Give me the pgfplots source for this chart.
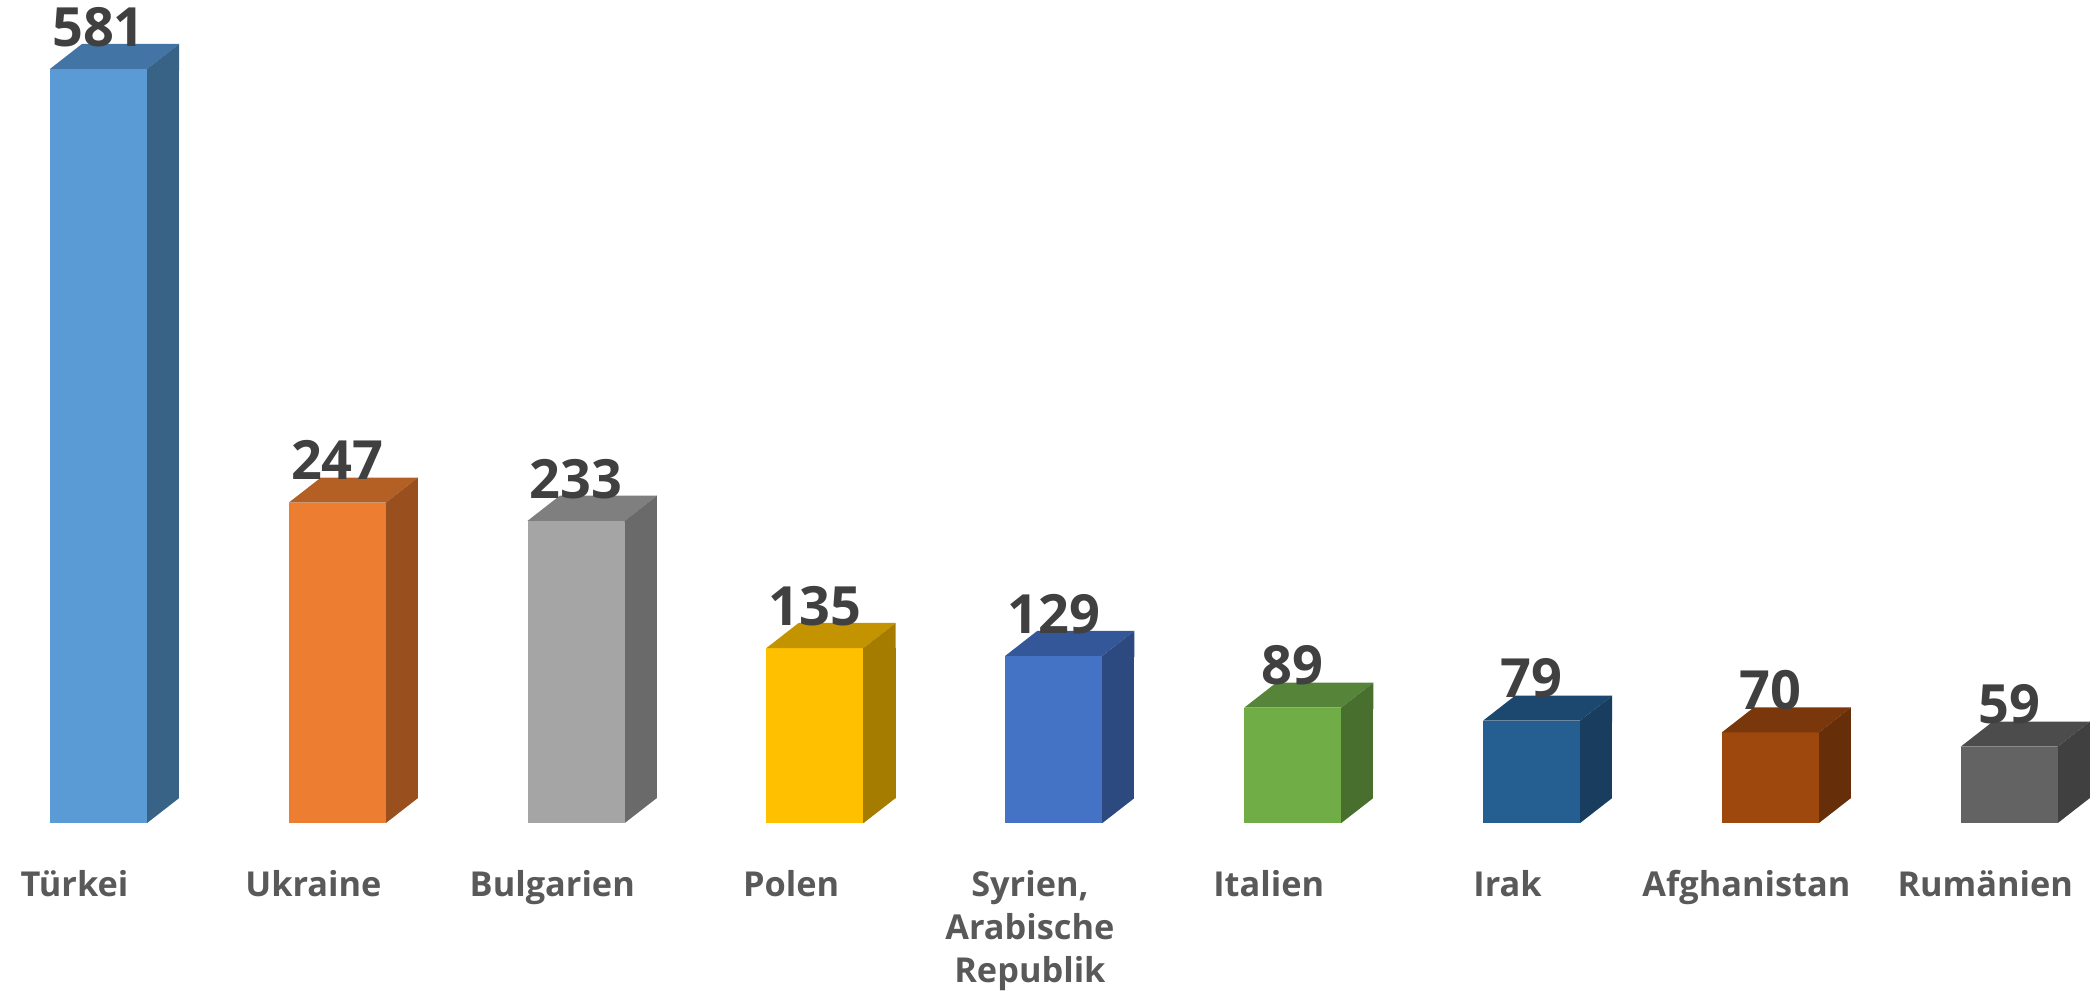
\documentclass[border=0pt]{standalone}
\usepackage{pgfplots}
\pgfplotsset{compat=1.18}
\usepackage{fontspec}
\setmainfont{Open Sans}
\definecolor{fA}{HTML}{5B9BD5}\definecolor{sA}{HTML}{386286}\definecolor{tA}{HTML}{4275A5}
\definecolor{fB}{HTML}{ED7D31}\definecolor{sB}{HTML}{9A4F1E}\definecolor{tB}{HTML}{B45F24}
\definecolor{fC}{HTML}{A5A5A5}\definecolor{sC}{HTML}{6A6A6A}\definecolor{tC}{HTML}{7F7F7F}
\definecolor{fD}{HTML}{FFC000}\definecolor{sD}{HTML}{A67C00}\definecolor{tD}{HTML}{C49300}
\definecolor{fE}{HTML}{4472C4}\definecolor{sE}{HTML}{2C4A80}\definecolor{tE}{HTML}{34579A}
\definecolor{fF}{HTML}{70AD47}\definecolor{sF}{HTML}{486F2E}\definecolor{tF}{HTML}{56853A}
\definecolor{fG}{HTML}{255E91}\definecolor{sG}{HTML}{183D5E}\definecolor{tG}{HTML}{1C486F}
\definecolor{fH}{HTML}{9E480E}\definecolor{sH}{HTML}{662E09}\definecolor{tH}{HTML}{79370B}
\definecolor{fI}{HTML}{636363}\definecolor{sI}{HTML}{404040}\definecolor{tI}{HTML}{4C4C4C}
\definecolor{numtxt}{HTML}{404040}
\definecolor{cattxt}{HTML}{595959}
% faces of the 3D bar, relative to the data point (front top centre / base)
\pgfdeclareplotmark{cubetop}{%
  \pgfpathmoveto{\pgfpoint{-0.3625cm}{0cm}}%
  \pgfpathlineto{\pgfpoint{0.3625cm}{0cm}}%
  \pgfpathlineto{\pgfpoint{0.6025cm}{0.187cm}}%
  \pgfpathlineto{\pgfpoint{-0.1225cm}{0.187cm}}%
  \pgfpathclose\pgfusepathqfill}
\pgfdeclareplotmark{cubesidetip}{%
  \pgfpathmoveto{\pgfpoint{0.3625cm}{-0.01cm}}%
  \pgfpathlineto{\pgfpoint{0.3625cm}{0cm}}%
  \pgfpathlineto{\pgfpoint{0.6025cm}{0.187cm}}%
  \pgfpathlineto{\pgfpoint{0.6025cm}{-0.01cm}}%
  \pgfpathclose\pgfusepathqfill}
\pgfdeclareplotmark{cubebase}{%
  \pgfpathmoveto{\pgfpoint{0.3625cm}{-0.02cm}}%
  \pgfpathlineto{\pgfpoint{0.3625cm}{0cm}}%
  \pgfpathlineto{\pgfpoint{0.6025cm}{0.187cm}}%
  \pgfpathlineto{\pgfpoint{0.62cm}{0.187cm}}%
  \pgfpathlineto{\pgfpoint{0.62cm}{-0.02cm}}%
  \pgfpathclose\pgfusepathqfill}
\newcommand\cube[5]{%
  \addplot[ybar, bar width=0.24cm, bar shift=0.4825cm, fill=#4, draw=none] coordinates {(#1,#2)};
  \addplot[only marks, mark=cubetop, color=#5] coordinates {(#1,#2)};
  \addplot[only marks, mark=cubesidetip, color=#4] coordinates {(#1,#2)};
  \addplot[only marks, mark=cubebase, color=white] coordinates {(#1,0)};
  \addplot[ybar, bar width=0.725cm, bar shift=0pt, fill=#3, draw=none,
    nodes near coords,
    nodes near coords style={anchor=base, yshift=0.17cm, inner sep=0pt,
      font=\bfseries\fontsize{11.5pt}{13pt}\selectfont, text=numtxt}]
    coordinates {(#1,#2)};
}
\newcommand\R{\rule{0pt}{0.8em}}
\begin{document}
\begin{tikzpicture}
\begin{axis}[
  name=ax,
  x=1.785cm, y=0.009711cm,
  xmin=-0.4123, xmax=8.372, ymin=-128.9, ymax=634.1,
  clip=false,
  axis line style={draw=none},
  major tick length=0pt,
  ytick=\empty,
  /pgf/number format/assume math mode=true,
  xtick={-0.1,0.9,1.9,2.9,3.9,4.9,5.9,6.9,7.9},
  xticklabels={\R Türkei,\R Ukraine,\R Bulgarien,\R Polen,{\R Syrien,\\Arabische\\Republik},\R Italien,\R Irak,\R Afghanistan,\R Rumänien},
  xticklabel style={anchor=north, yshift=0.914cm, inner sep=0pt, align=center,
    font=\bfseries\fontsize{7.3pt}{9.1pt}\selectfont, text=cattxt},
]
\cube{0}{581}{fA}{sA}{tA}
\cube{1}{247}{fB}{sB}{tB}
\cube{2}{233}{fC}{sC}{tC}
\cube{3}{135}{fD}{sD}{tD}
\cube{4}{129}{fE}{sE}{tE}
\cube{5}{89}{fF}{sF}{tF}
\cube{6}{79}{fG}{sG}{tG}
\cube{7}{70}{fH}{sH}{tH}
\cube{8}{59}{fI}{sI}{tI}
\end{axis}
\pgfresetboundingbox
\path (ax.south west) rectangle (ax.north east);
\end{tikzpicture}
\end{document}
